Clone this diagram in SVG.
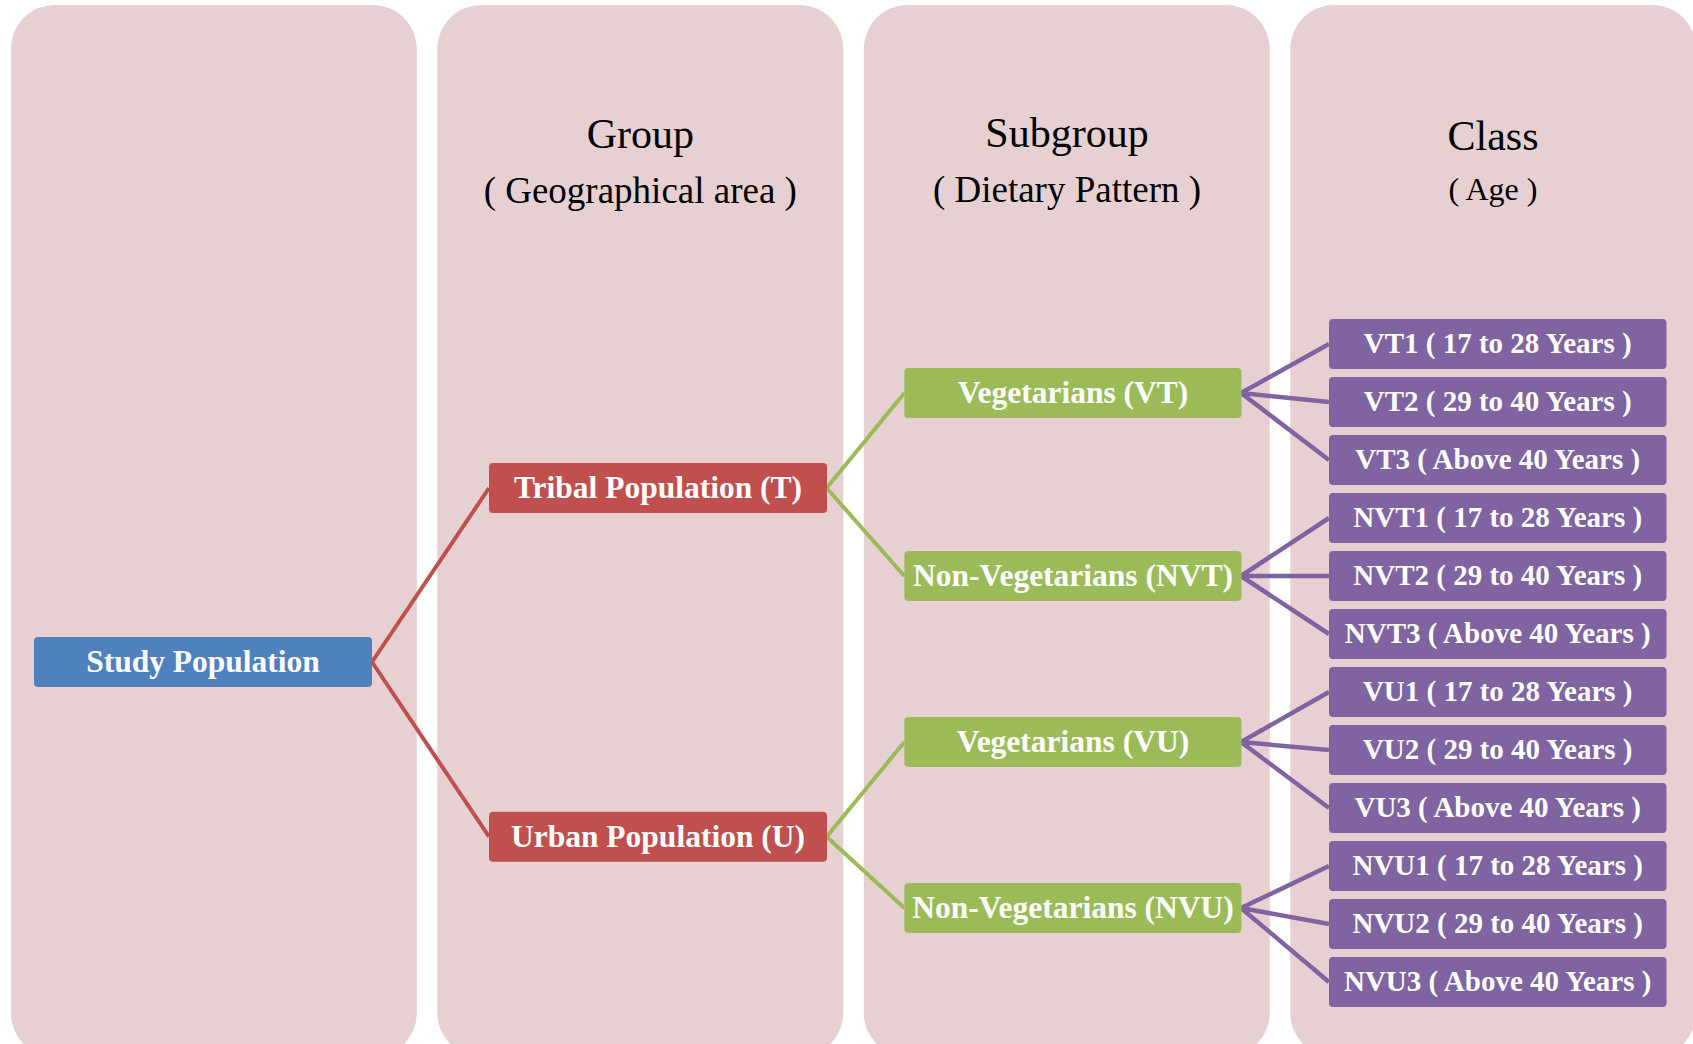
<svg xmlns="http://www.w3.org/2000/svg" width="1693" height="1044" viewBox="0 0 1693 1044">
<style>
.panel{fill:#E7D0D1}
.title{font-family:"Liberation Serif","Times New Roman",serif;fill:#000;text-anchor:middle}
.t1{font-size:42px}
.t2{font-size:37px}
.lbl{font-family:"Liberation Serif","Times New Roman",serif;font-weight:bold;fill:#fff;text-anchor:middle;font-size:31.5px}
.sm{font-size:29px}
.blue{fill:#4F81BD}
.red{fill:#C0504D}
.green{fill:#9BBB59}
.purple{fill:#8064A2}
.cr{stroke:#C0504D;stroke-width:4;fill:none}
.cg{stroke:#9BBB59;stroke-width:4;fill:none}
.cp{stroke:#8064A2;stroke-width:4.5;fill:none}
</style>
<rect width="1693" height="1044" fill="#fff"/>
<g id="panels">
<rect class="panel" x="10.8" y="5" width="406" height="1052" rx="44"/>
<rect class="panel" x="437.3" y="5" width="406" height="1052" rx="44"/>
<rect class="panel" x="863.8" y="5" width="406" height="1052" rx="44"/>
<rect class="panel" x="1290.2" y="5" width="406" height="1052" rx="44"/>
</g>
<g id="titles">
<text class="title t1" x="640.3" y="148">Group</text>
<text class="title t2" x="640.3" y="203">( Geographical area )</text>
<text class="title t1" x="1067" y="147">Subgroup</text>
<text class="title t2" x="1067" y="202">( Dietary Pattern )</text>
<text class="title t1" x="1493" y="150">Class</text>
<text class="title" style="font-size:32px" x="1493" y="200">( Age )</text>
</g>
<g id="connectors">
<path class="cr" d="M372,662 L489,488 M372,662 L489,836.7"/>
<path class="cg" d="M826.6,488 L904.4,393 M826.6,488 L904.4,576"/>
<path class="cg" d="M826.6,836.7 L904.4,742 M826.6,836.7 L904.4,908"/>
<path class="cp" d="M1241,393 L1329,344 M1241,393 L1329,402 M1241,393 L1329,460"/>
<path class="cp" d="M1241,576 L1329,518 M1241,576 L1329,576 M1241,576 L1329,634"/>
<path class="cp" d="M1241,742 L1329,692 M1241,742 L1329,750 M1241,742 L1329,808"/>
<path class="cp" d="M1241,908 L1329,866 M1241,908 L1329,924 M1241,908 L1329,982"/>
</g>
<g id="study">
<rect class="blue" x="34" y="637" width="338" height="50" rx="4"/>
<text class="lbl" x="203" y="672">Study Population</text>
</g>
<g id="tribal">
<rect class="red" x="489" y="463" width="338" height="50" rx="4"/>
<text class="lbl" x="658" y="498">Tribal Population (T)</text>
</g>
<g id="urban">
<rect class="red" x="489" y="811.7" width="338" height="50" rx="4"/>
<text class="lbl" x="658" y="846.7">Urban Population (U)</text>
</g>
<g id="vt">
<rect class="green" x="904.4" y="368" width="337" height="50" rx="4"/>
<text class="lbl" x="1073" y="403">Vegetarians (VT)</text>
</g>
<g id="nvt">
<rect class="green" x="904.4" y="551" width="337" height="50" rx="4"/>
<text class="lbl" x="1073" y="586">Non-Vegetarians (NVT)</text>
</g>
<g id="vu">
<rect class="green" x="904.4" y="717" width="337" height="50" rx="4"/>
<text class="lbl" x="1073" y="752">Vegetarians (VU)</text>
</g>
<g id="nvu">
<rect class="green" x="904.4" y="883" width="337" height="50" rx="4"/>
<text class="lbl" x="1073" y="918">Non-Vegetarians (NVU)</text>
</g>
<g id="vt1"><rect class="purple" x="1329" y="319" width="337.5" height="50" rx="4"/><text class="lbl sm" x="1497.7" y="353">VT1 ( 17 to 28 Years )</text></g>
<g id="vt2"><rect class="purple" x="1329" y="377" width="337.5" height="50" rx="4"/><text class="lbl sm" x="1497.7" y="411">VT2 ( 29 to 40 Years )</text></g>
<g id="vt3"><rect class="purple" x="1329" y="435" width="337.5" height="50" rx="4"/><text class="lbl sm" x="1497.7" y="469">VT3 ( Above 40 Years )</text></g>
<g id="nvt1"><rect class="purple" x="1329" y="493" width="337.5" height="50" rx="4"/><text class="lbl sm" x="1497.7" y="527">NVT1 ( 17 to 28 Years )</text></g>
<g id="nvt2"><rect class="purple" x="1329" y="551" width="337.5" height="50" rx="4"/><text class="lbl sm" x="1497.7" y="585">NVT2 ( 29 to 40 Years )</text></g>
<g id="nvt3"><rect class="purple" x="1329" y="609" width="337.5" height="50" rx="4"/><text class="lbl sm" x="1497.7" y="643">NVT3 ( Above 40 Years )</text></g>
<g id="vu1"><rect class="purple" x="1329" y="667" width="337.5" height="50" rx="4"/><text class="lbl sm" x="1497.7" y="701">VU1 ( 17 to 28 Years )</text></g>
<g id="vu2"><rect class="purple" x="1329" y="725" width="337.5" height="50" rx="4"/><text class="lbl sm" x="1497.7" y="759">VU2 ( 29 to 40 Years )</text></g>
<g id="vu3"><rect class="purple" x="1329" y="783" width="337.5" height="50" rx="4"/><text class="lbl sm" x="1497.7" y="817">VU3 ( Above 40 Years )</text></g>
<g id="nvu1"><rect class="purple" x="1329" y="841" width="337.5" height="50" rx="4"/><text class="lbl sm" x="1497.7" y="875">NVU1 ( 17 to 28 Years )</text></g>
<g id="nvu2"><rect class="purple" x="1329" y="899" width="337.5" height="50" rx="4"/><text class="lbl sm" x="1497.7" y="933">NVU2 ( 29 to 40 Years )</text></g>
<g id="nvu3"><rect class="purple" x="1329" y="957" width="337.5" height="50" rx="4"/><text class="lbl sm" x="1497.7" y="991">NVU3 ( Above 40 Years )</text></g>
</svg>
